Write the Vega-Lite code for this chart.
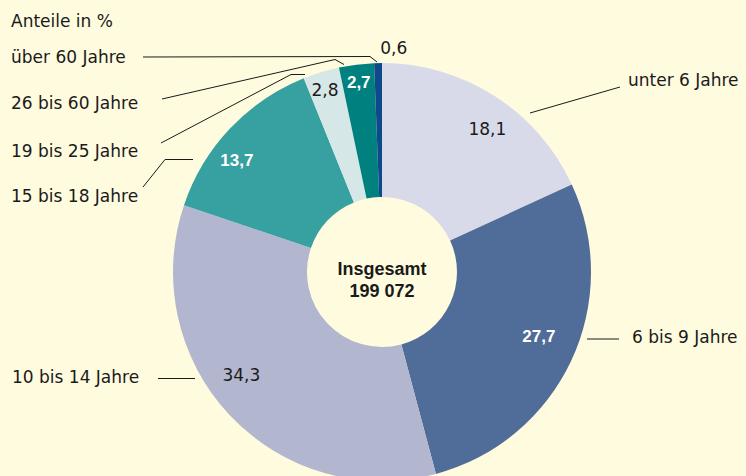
{
  "$schema": "https://vega.github.io/schema/vega-lite/v6.json",
  "width": 728,
  "height": 408,
  "autosize": {"type": "none"},
  "padding": {"left": 18, "top": 68, "right": 0, "bottom": 0},
  "background": "#fffbdf",
  "config": {
    "view": {"stroke": null},
    "locale": {"number": {"decimal": ",", "thousands": " ", "grouping": [3], "currency": ["", " €"]}}
  },
  "datasets": {
    "shares": [
      {"idx": 1, "group": "unter 6 Jahre", "share": 18.1},
      {"idx": 2, "group": "6 bis 9 Jahre", "share": 27.7},
      {"idx": 3, "group": "10 bis 14 Jahre", "share": 34.3},
      {"idx": 4, "group": "15 bis 18 Jahre", "share": 13.7},
      {"idx": 5, "group": "19 bis 25 Jahre", "share": 2.8},
      {"idx": 6, "group": "26 bis 60 Jahre", "share": 2.7},
      {"idx": 7, "group": "über 60 Jahre", "share": 0.6}
    ],
    "labels": [
      {"text": "Anteile in %", "x": 11, "y": 27},
      {"text": "über 60 Jahre", "x": 11, "y": 63},
      {"text": "26 bis 60 Jahre", "x": 11, "y": 108.5},
      {"text": "19 bis 25 Jahre", "x": 11, "y": 157},
      {"text": "15 bis 18 Jahre", "x": 11, "y": 202},
      {"text": "unter 6 Jahre", "x": 628, "y": 86},
      {"text": "6 bis 9 Jahre", "x": 632, "y": 343},
      {"text": "10 bis 14 Jahre", "x": 12, "y": 382.5}
    ],
    "leaders": [
      {"g": "u60", "i": 0, "x": 143, "y": 57},
      {"g": "u60", "i": 1, "x": 370, "y": 56.5},
      {"g": "u60", "i": 2, "x": 377, "y": 62},
      {"g": "26", "i": 0, "x": 162, "y": 99},
      {"g": "26", "i": 1, "x": 335, "y": 59.5},
      {"g": "26", "i": 2, "x": 344, "y": 64.5},
      {"g": "19", "i": 0, "x": 161, "y": 143},
      {"g": "19", "i": 1, "x": 291, "y": 74.5},
      {"g": "19", "i": 2, "x": 305, "y": 74.5},
      {"g": "15", "i": 0, "x": 143, "y": 187},
      {"g": "15", "i": 1, "x": 165, "y": 159.5},
      {"g": "15", "i": 2, "x": 193, "y": 159.5},
      {"g": "u6", "i": 0, "x": 530, "y": 113},
      {"g": "u6", "i": 1, "x": 620, "y": 87},
      {"g": "6", "i": 0, "x": 587, "y": 339},
      {"g": "6", "i": 1, "x": 619, "y": 339},
      {"g": "10", "i": 0, "x": 158, "y": 378.5},
      {"g": "10", "i": 1, "x": 195, "y": 378.5}
    ]
  },
  "layer": [
    {
      "data": {"name": "shares"},
      "mark": {"type": "arc", "innerRadius": 75, "outerRadius": 209},
      "encoding": {
        "theta": {"field": "share", "type": "quantitative", "stack": true},
        "order": {"field": "idx", "type": "quantitative"},
        "color": {
          "field": "group", "type": "nominal", "legend": null,
          "scale": {
            "domain": ["unter 6 Jahre", "6 bis 9 Jahre", "10 bis 14 Jahre", "15 bis 18 Jahre", "19 bis 25 Jahre", "26 bis 60 Jahre", "über 60 Jahre"],
            "range": ["#d9dae9", "#506c99", "#b2b6cf", "#37a0a1", "#d6e7e7", "#00817f", "#0d4a8b"]
          }
        }
      }
    },
    {
      "data": {"name": "shares"},
      "mark": {"type": "text", "radius": 170, "dx": 3, "dy": -7, "font": "Liberation Sans", "fontWeight": "bold", "fontSize": 17, "color": "white", "baseline": "middle"},
      "encoding": {
        "theta": {"field": "share", "type": "quantitative", "stack": true},
        "order": {"field": "idx", "type": "quantitative"},
        "text": {"field": "share", "type": "quantitative", "format": ".1f"},
        "opacity": {"condition": {"test": "datum.group === '6 bis 9 Jahre'", "value": 1}, "value": 0}
      }
    },
    {
      "data": {"name": "shares"},
      "mark": {"type": "text", "radius": 183, "dx": -12, "dy": 15, "font": "Liberation Sans", "fontWeight": "bold", "fontSize": 17, "color": "white", "baseline": "middle"},
      "encoding": {
        "theta": {"field": "share", "type": "quantitative", "stack": true},
        "order": {"field": "idx", "type": "quantitative"},
        "text": {"field": "share", "type": "quantitative", "format": ".1f"},
        "opacity": {"condition": {"test": "datum.group === '15 bis 18 Jahre'", "value": 1}, "value": 0}
      }
    },
    {
      "data": {"name": "shares"},
      "mark": {"type": "text", "radius": 190, "dx": 0, "dy": 0, "font": "Liberation Sans", "fontWeight": "bold", "fontSize": 17, "color": "white", "baseline": "middle"},
      "encoding": {
        "theta": {"field": "share", "type": "quantitative", "stack": true},
        "order": {"field": "idx", "type": "quantitative"},
        "text": {"field": "share", "type": "quantitative", "format": ".1f"},
        "opacity": {"condition": {"test": "datum.group === '26 bis 60 Jahre'", "value": 1}, "value": 0}
      }
    },
    {
      "data": {"name": "shares"},
      "mark": {"type": "text", "radius": 177, "dx": 10, "dy": 7, "font": "DejaVu Sans", "fontSize": 17, "color": "#1a1a1a", "baseline": "middle"},
      "encoding": {
        "theta": {"field": "share", "type": "quantitative", "stack": true},
        "order": {"field": "idx", "type": "quantitative"},
        "text": {"field": "share", "type": "quantitative", "format": ".1f"},
        "opacity": {"condition": {"test": "datum.group === 'unter 6 Jahre'", "value": 1}, "value": 0}
      }
    },
    {
      "data": {"name": "shares"},
      "mark": {"type": "text", "radius": 175, "dx": -13, "dy": -16, "font": "DejaVu Sans", "fontSize": 17, "color": "#1a1a1a", "baseline": "middle"},
      "encoding": {
        "theta": {"field": "share", "type": "quantitative", "stack": true},
        "order": {"field": "idx", "type": "quantitative"},
        "text": {"field": "share", "type": "quantitative", "format": ".1f"},
        "opacity": {"condition": {"test": "datum.group === '10 bis 14 Jahre'", "value": 1}, "value": 0}
      }
    },
    {
      "data": {"name": "shares"},
      "mark": {"type": "text", "radius": 189, "dx": -2, "dy": 0, "font": "DejaVu Sans", "fontSize": 17, "color": "#1a1a1a", "baseline": "middle"},
      "encoding": {
        "theta": {"field": "share", "type": "quantitative", "stack": true},
        "order": {"field": "idx", "type": "quantitative"},
        "text": {"field": "share", "type": "quantitative", "format": ".1f"},
        "opacity": {"condition": {"test": "datum.group === '19 bis 25 Jahre'", "value": 1}, "value": 0}
      }
    },
    {
      "data": {"name": "shares"},
      "mark": {"type": "text", "radius": 223, "dx": 16, "dy": 0, "font": "DejaVu Sans", "fontSize": 17, "color": "#1a1a1a", "baseline": "middle"},
      "encoding": {
        "theta": {"field": "share", "type": "quantitative", "stack": true},
        "order": {"field": "idx", "type": "quantitative"},
        "text": {"field": "share", "type": "quantitative", "format": ".1f"},
        "opacity": {"condition": {"test": "datum.group === 'über 60 Jahre'", "value": 1}, "value": 0}
      }
    },
    {
      "data": {"name": "leaders"},
      "mark": {"type": "line", "color": "#1a1a1a", "strokeWidth": 1},
      "encoding": {
        "x": {"field": "x", "type": "quantitative", "scale": {"domain": [18, 746], "nice": false, "zero": false}, "axis": null},
        "y": {"field": "y", "type": "quantitative", "scale": {"domain": [68, 476], "reverse": true, "nice": false, "zero": false}, "axis": null},
        "detail": {"field": "g", "type": "nominal"},
        "order": {"field": "i", "type": "quantitative"}
      }
    },
    {
      "data": {"name": "labels"},
      "mark": {"type": "text", "align": "left", "baseline": "alphabetic", "font": "DejaVu Sans", "fontSize": 17, "color": "#1a1a1a"},
      "encoding": {
        "x": {"field": "x", "type": "quantitative", "scale": {"domain": [18, 746], "nice": false, "zero": false}, "axis": null},
        "y": {"field": "y", "type": "quantitative", "scale": {"domain": [68, 476], "reverse": true, "nice": false, "zero": false}, "axis": null},
        "text": {"field": "text", "type": "nominal"}
      }
    },
    {
      "data": {"values": [{"t": "Insgesamt"}]},
      "mark": {"type": "text", "align": "center", "baseline": "middle", "font": "Liberation Sans", "fontWeight": "bold", "fontSize": 18, "lineHeight": 22, "dy": -2, "color": "#1a1a1a"},
      "encoding": {
        "text": {"value": ["Insgesamt", "199 072"]}
      }
    }
  ]
}
